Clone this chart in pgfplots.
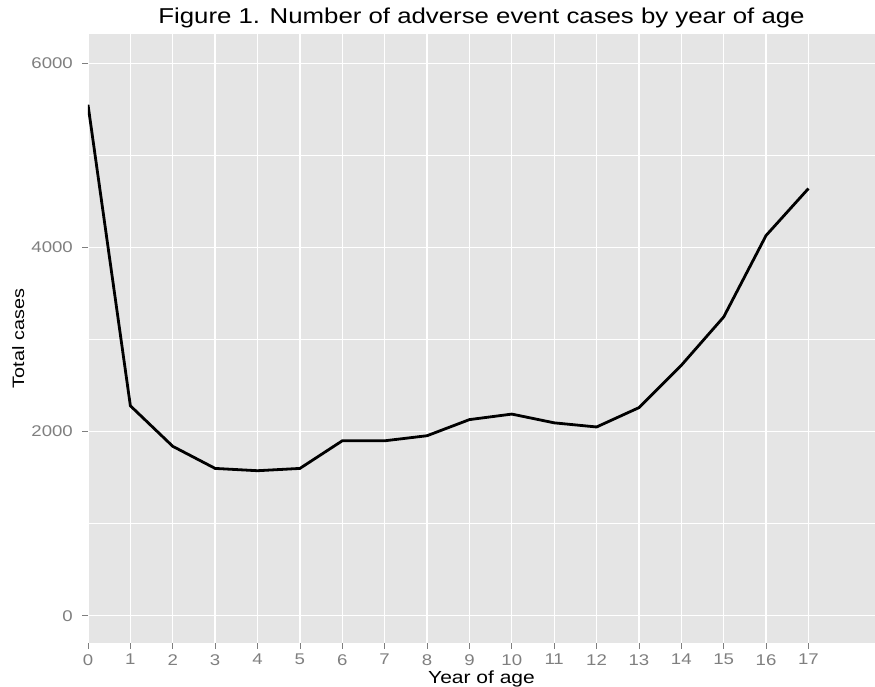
\documentclass[border=0pt]{standalone}
\usepackage{fontspec}
\setmainfont[FakeStretch=1.2]{Liberation Sans}
\usepackage{pgfplots}
\pgfplotsset{compat=1.18}
\definecolor{panel}{HTML}{E5E5E5}
\definecolor{tickgrey}{HTML}{7F7F7F}

\begin{document}
\begin{tikzpicture}
\useasboundingbox (-88pt,-44pt) rectangle (787pt,643pt);
\begin{axis}[
  at={(0,0)}, anchor=south west,
  scale only axis, width=787pt, height=609pt,
  xmin=0, xmax=18.57, ymin=-296, ymax=6318,
  axis background/.style={fill=panel},
  axis line style={draw=none},
  xtick={0,...,17},
  ytick={0,2000,4000,6000},
  minor ytick={1000,3000,5000},
  grid=both,
  major grid style={white, line width=1.3pt},
  minor grid style={white, line width=0.6pt},
  tick align=outside, tick pos=left,
  major tick length=6pt, minor tick length=0pt,
  tick style={tickgrey, line width=0.8pt},
  scaled ticks=false,
  /pgf/number format/1000 sep={},
  /pgf/number format/assume math mode=true,
  ticklabel style={font=\fontsize{15.5}{15.5}\selectfont, text=tickgrey, inner sep=0pt},
  xticklabel style={anchor=north, yshift=-5pt},
  yticklabel style={anchor=east, xshift=-9pt},
  title={Figure 1. Number of adverse event cases by year of age},
  title style={font=\fontsize{21.5}{21.5}\selectfont, at={(axis description cs:0.5,1)}, anchor=base, yshift=4pt, inner sep=0pt},
  xlabel={Year of age},
  xlabel style={font=\fontsize{17.5}{17.5}\selectfont, at={(axis description cs:0.5,0)}, anchor=base, yshift=-40.5pt, inner sep=0pt},
  ylabel={Total cases},
  ylabel style={font=\fontsize{16.5}{16.5}\selectfont, at={(axis description cs:-0.0813,0.5)}, anchor=base, inner sep=0pt},
]
\addplot[black, line width=2.8pt] coordinates {
  (0,5550) (1,2280) (2,1840) (3,1600) (4,1575) (5,1600) (6,1900) (7,1900)
  (8,1955) (9,2130) (10,2190) (11,2095) (12,2050) (13,2260) (14,2720)
  (15,3245) (16,4130) (17,4640)
};
\end{axis}
\end{tikzpicture}
\end{document}
